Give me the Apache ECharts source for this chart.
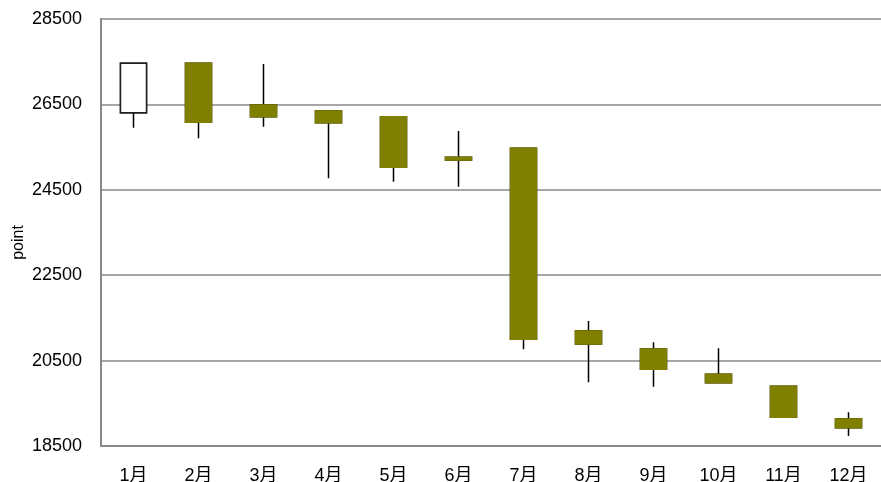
<!DOCTYPE html>
<html lang="ja">
<head>
<meta charset="UTF-8">
<title>candlestick</title>
<script src="https://cdn.jsdelivr.net/npm/echarts@6/dist/echarts.min.js"></script>
<style>
    html, body { margin: 0; padding: 0; background: #fff; }
    #chart { width: 881px; height: 482px; }
</style>
</head>
<body>
<div id="chart"></div>
<script>
    // 月
    const months = ["1月", "2月", "3月", "4月", "5月", "6月", "7月", "8月", "9月", "10月", "11月", "12月"];
    // 始値・終値・安値・高値 (point)
    const openVals  = [26306, 27463, 26486, 26345, 26212, 25260, 25471, 21193, 20772, 20179, 19898, 19132];
    const closeVals = [27463, 26081, 26212, 26072, 25027, 25200, 20998, 20889, 20296, 19983, 19172, 18929];
    const lowVals   = [25954, 25706, 25978, 24769, 24690, 24573, 20764, 19991, 19889, 19983, 19172, 18734];
    const highVals  = [27463, 27463, 27446, 26345, 26212, 25877, 25471, 21427, 20929, 20788, 19898, 19289];

    const FONT = "'Liberation Sans', 'Noto Sans CJK JP', sans-serif";
    const OLIVE = "#808000";

    // ヒゲ用 (全体) と 実体用 (ヒゲなし) の2系列
    const wickData = months.map((m, i) => [openVals[i], closeVals[i], lowVals[i], highVals[i]]);
    const bodyData = months.map((m, i) => [
        openVals[i], closeVals[i],
        Math.min(openVals[i], closeVals[i]), Math.max(openVals[i], closeVals[i])
    ]);

    const chart = echarts.init(document.getElementById("chart"));
    chart.setOption({
        animation: false,
        grid: { left: 101, right: 0, top: 19, bottom: 36, outerBoundsMode: "none", containLabel: false },
        xAxis: {
            type: "category",
            data: months,
            boundaryGap: true,
            axisLine: { lineStyle: { color: "#888", width: 2 } },
            axisTick: { inside: true, length: 7, lineStyle: { color: "#888", width: 1 } },
            axisLabel: { color: "#000", fontSize: 18, fontFamily: FONT, margin: 21 },
            splitLine: { show: false }
        },
        yAxis: {
            type: "value",
            min: 18500,
            max: 28500,
            interval: 2000,
            name: "point",
            nameLocation: "middle",
            nameGap: 74,
            nameRotate: 90,
            nameMoveOverlap: false,
            nameTextStyle: { color: "#000", fontSize: 16, fontFamily: FONT, padding: [0, 20, 0, 0] },
            axisLine: { show: true, lineStyle: { color: "#888", width: 2 } },
            axisTick: { show: false },
            axisLabel: { color: "#000", fontSize: 18, fontFamily: FONT, margin: 19, formatter: v => String(v) },
            splitLine: { lineStyle: { color: "#888", width: 1.5 } }
        },
        series: [
            {
                name: "wick",
                type: "candlestick",
                data: wickData,
                barWidth: 27,
                itemStyle: {
                    color: "#fff",
                    color0: OLIVE,
                    borderColor: "#000",
                    borderColor0: "#000",
                    borderWidth: 1.5
                },
                z: 2
            },
            {
                name: "body",
                type: "candlestick",
                data: bodyData,
                barWidth: 27,
                itemStyle: {
                    color: "#fff",
                    color0: OLIVE,
                    borderColor: "#222",
                    borderColor0: OLIVE,
                    borderWidth: 1.5
                },
                z: 3
            }
        ]
    });
</script>
</body>
</html>
